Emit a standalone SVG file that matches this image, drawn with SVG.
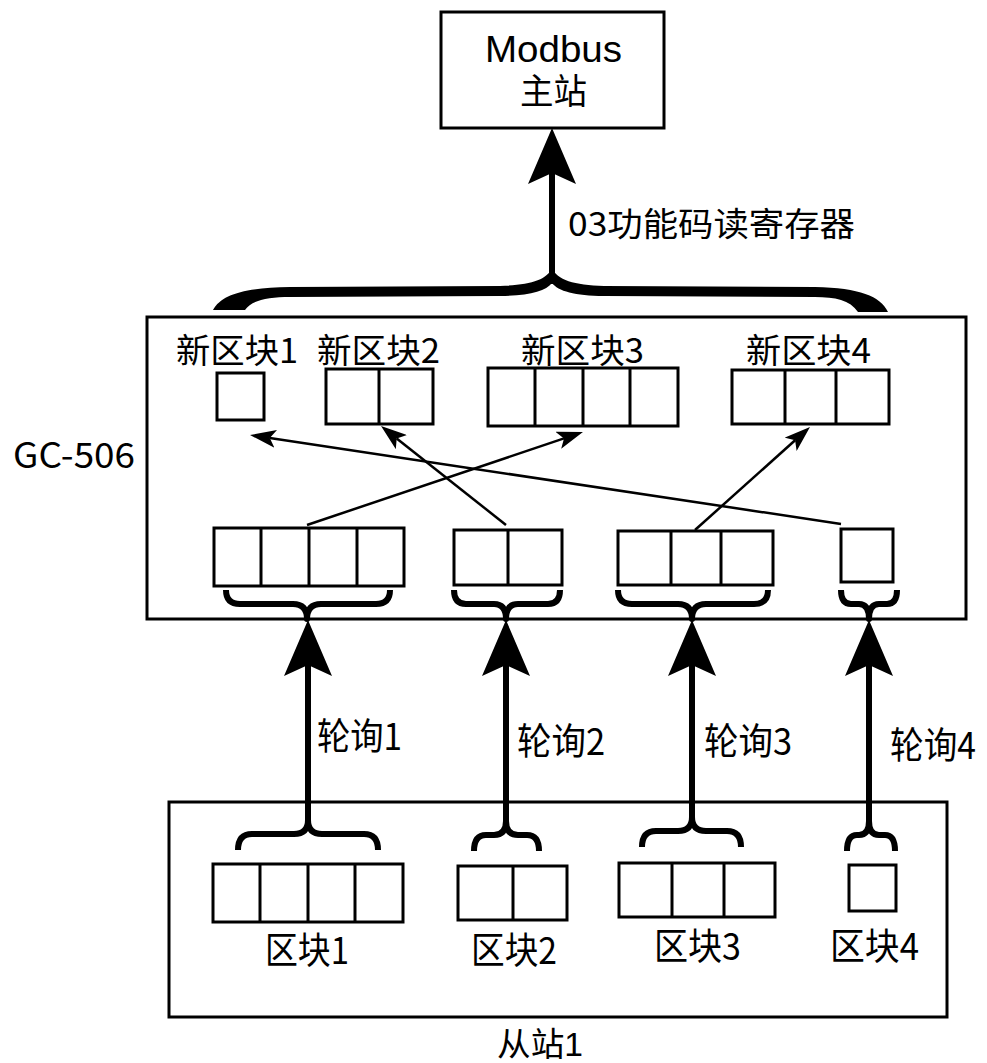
<svg xmlns="http://www.w3.org/2000/svg" width="987" height="1063" viewBox="0 0 987 1063">
<style>
text{font-family:"Noto Sans CJK SC","Noto Sans",sans-serif;fill:#000;}
.lat{font-family:"Liberation Sans","Noto Sans CJK SC",sans-serif;}
.box{fill:#fff;stroke:#000;stroke-width:3;}
.cell{fill:none;stroke:#000;stroke-width:3;}
.brace{fill:none;stroke:#000;stroke-width:6;stroke-linejoin:round;}
.thin{fill:none;stroke:#000;stroke-width:2.5;marker-end:url(#thinHead);}
.thick{fill:none;stroke:#000;stroke-width:6;marker-end:url(#thickHead);}
</style>
<defs>
<marker id="thinHead" viewBox="0 0 26 18" refX="6" refY="9" markerWidth="26" markerHeight="18" markerUnits="userSpaceOnUse" orient="auto">
<path d="M26,9 L0,0 L6,9 L0,18 Z" fill="#000"/>
</marker>
<marker id="thickHead" viewBox="0 0 56 48" refX="11" refY="24" markerWidth="56" markerHeight="48" markerUnits="userSpaceOnUse" orient="auto">
<path d="M56,24 L0,0 L11,24 L0,48 Z" fill="#000"/>
</marker>
</defs>

<g id="master">
<rect class="box" x="441" y="12" width="223" height="116"/>
<text class="lat" x="485" y="62" font-size="37" textLength="137" lengthAdjust="spacingAndGlyphs">Modbus</text>
<text class="lat" x="520" y="104" font-size="35" textLength="67" lengthAdjust="spacingAndGlyphs">主站</text>
</g>

<g id="gc506">
<rect class="box" x="147" y="317" width="819" height="302"/>
<text x="13" y="468" font-size="35" textLength="122" lengthAdjust="spacingAndGlyphs">GC-506</text>
</g>

<g id="newblock1">
<text x="176" y="363" font-size="34" textLength="122" lengthAdjust="spacingAndGlyphs">新区块1</text>
<rect class="cell" x="217" y="373" width="47" height="47"/>
</g>
<g id="newblock2">
<text x="317" y="363" font-size="34" textLength="123" lengthAdjust="spacingAndGlyphs">新区块2</text>
<rect class="cell" x="326" y="369" width="107" height="55"/>
<line class="cell" x1="379" y1="369" x2="379" y2="424"/>
</g>
<g id="newblock3">
<text x="521" y="363" font-size="34" textLength="123" lengthAdjust="spacingAndGlyphs">新区块3</text>
<rect class="cell" x="488" y="368" width="190" height="58"/>
<line class="cell" x1="535" y1="368" x2="535" y2="426"/>
<line class="cell" x1="583" y1="368" x2="583" y2="426"/>
<line class="cell" x1="630" y1="368" x2="630" y2="426"/>
</g>
<g id="newblock4">
<text x="746" y="363" font-size="34" textLength="125" lengthAdjust="spacingAndGlyphs">新区块4</text>
<rect class="cell" x="732" y="370" width="157" height="54"/>
<line class="cell" x1="785" y1="370" x2="785" y2="424"/>
<line class="cell" x1="836" y1="370" x2="836" y2="424"/>
</g>

<g id="bufA">
<rect class="cell" x="214" y="528" width="190" height="58"/>
<line class="cell" x1="261" y1="528" x2="261" y2="586"/>
<line class="cell" x1="309" y1="528" x2="309" y2="586"/>
<line class="cell" x1="357" y1="528" x2="357" y2="586"/>
</g>
<g id="bufB">
<rect class="cell" x="454" y="530" width="108" height="55"/>
<line class="cell" x1="508" y1="530" x2="508" y2="585"/>
</g>
<g id="bufC">
<rect class="cell" x="618" y="531" width="155" height="54"/>
<line class="cell" x1="671" y1="531" x2="671" y2="585"/>
<line class="cell" x1="721" y1="531" x2="721" y2="585"/>
</g>
<g id="bufD">
<rect class="cell" x="841" y="529" width="52" height="53"/>
</g>

<g id="slave">
<rect class="box" x="169" y="802" width="778" height="215"/>
<text class="lat" x="497" y="1056" font-size="33" textLength="86" lengthAdjust="spacingAndGlyphs">从站1</text>
</g>
<g id="block1">
<rect class="cell" x="213" y="864" width="190" height="58"/>
<line class="cell" x1="260" y1="864" x2="260" y2="922"/>
<line class="cell" x1="308" y1="864" x2="308" y2="922"/>
<line class="cell" x1="355" y1="864" x2="355" y2="922"/>
<text x="265" y="964" font-size="37" textLength="84" lengthAdjust="spacingAndGlyphs">区块1</text>
</g>
<g id="block2">
<rect class="cell" x="458" y="866" width="109" height="54"/>
<line class="cell" x1="513" y1="866" x2="513" y2="920"/>
<text x="471" y="964" font-size="37" textLength="86" lengthAdjust="spacingAndGlyphs">区块2</text>
</g>
<g id="block3">
<rect class="cell" x="619" y="863" width="156" height="54"/>
<line class="cell" x1="672" y1="863" x2="672" y2="917"/>
<line class="cell" x1="724" y1="863" x2="724" y2="917"/>
<text x="654" y="960" font-size="37" textLength="87" lengthAdjust="spacingAndGlyphs">区块3</text>
</g>
<g id="block4">
<rect class="cell" x="849" y="865" width="47" height="46"/>
<text x="830" y="960" font-size="37" textLength="89" lengthAdjust="spacingAndGlyphs">区块4</text>
</g>

<g id="connectors">
<path d="M213,310 C222,294 245,288 290,287 L500,286 C530,285 547,280 552,268 C557,280 574,285 604,286 L815,287 C860,288 880,296 888,312 L858,312 C850,300 835,297 815,297 L604,296 C575,296 558,291 552,283 C546,291 529,296 500,296 L290,297 C268,297 252,300 245,310 Z" fill="#000"/>
<line class="thick" x1="552" y1="284" x2="552" y2="173"/>
<text x="568" y="236" font-size="33" textLength="287" lengthAdjust="spacingAndGlyphs">03功能码读寄存器</text>

<line class="thin" x1="307" y1="525" x2="564" y2="438.4"/>
<line class="thin" x1="506" y1="525" x2="396.7" y2="438.4"/>
<line class="thin" x1="695" y1="530" x2="795.1" y2="440.3"/>
<line class="thin" x1="841" y1="524" x2="269.8" y2="438"/>

<path class="brace" d="M226,590 Q226,604 240,604 L293,604 Q307,604 307,619 Q307,604 321,604 L376,604 Q390,604 390,590"/>
<path class="brace" d="M454,590 Q454,604 466,604 L494,604 Q506,604 506,619 Q506,604 518,604 L548,604 Q560,604 560,590"/>
<path class="brace" d="M618,590 Q618,604 632,604 L678,604 Q692,604 692,619 Q692,604 706,604 L754,604 Q768,604 768,590"/>
<path class="brace" d="M841,590 Q841,604 851,604 L859,604 Q869,604 869,619 Q869,604 879,604 L887,604 Q897,604 897,590"/>

<path class="brace" d="M238,850 Q238,834 252,834 L294,834 Q308,834 308,820 Q308,834 322,834 L364,834 Q378,834 378,850"/>
<path class="brace" d="M474,851 Q474,835 486,835 L494,835 Q506,835 506,821 Q506,835 518,835 L527,835 Q539,835 539,851"/>
<path class="brace" d="M642,847 Q642,831 656,831 L678,831 Q692,831 692,817 Q692,831 706,831 L727,831 Q741,831 741,847"/>
<path class="brace" d="M847,851 Q847,835 857,835 L859,835 Q869,835 869,821 Q869,835 879,835 L885,835 Q895,835 895,851"/>

<line class="thick" x1="308" y1="822" x2="308" y2="665"/>
<line class="thick" x1="506" y1="823" x2="506" y2="665"/>
<line class="thick" x1="692" y1="819" x2="692" y2="665"/>
<line class="thick" x1="869" y1="823" x2="869" y2="665"/>
<text x="317" y="750" font-size="37" textLength="85" lengthAdjust="spacingAndGlyphs">轮询1</text>
<text x="517" y="755" font-size="37" textLength="88" lengthAdjust="spacingAndGlyphs">轮询2</text>
<text x="704" y="755" font-size="37" textLength="88" lengthAdjust="spacingAndGlyphs">轮询3</text>
<text x="890" y="759" font-size="37" textLength="86" lengthAdjust="spacingAndGlyphs">轮询4</text>
</g>
</svg>
